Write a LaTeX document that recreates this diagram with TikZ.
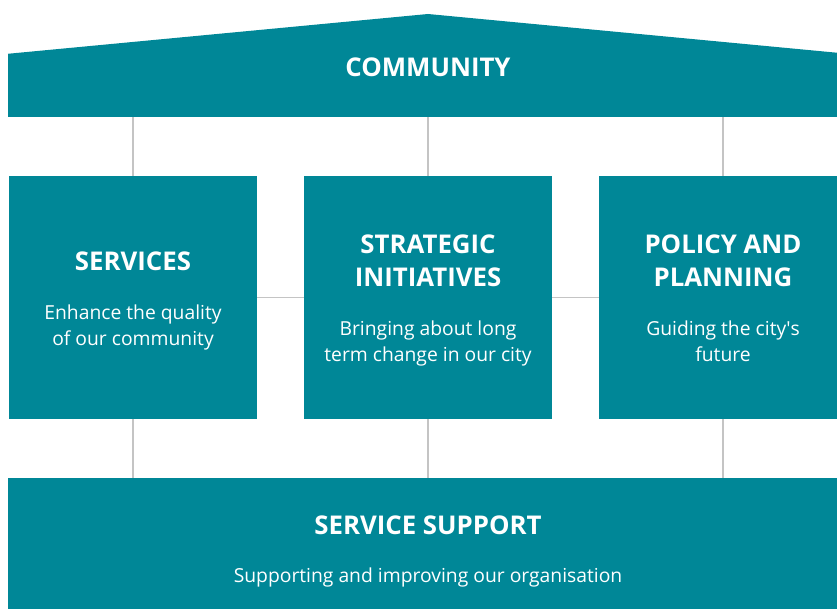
\documentclass[tikz,border=0pt]{standalone}
\usepackage{fontspec}
\setmainfont{Open Sans}
\newfontfamily\headfont{Open Sans}
\definecolor{cityteal}{HTML}{008797}
\definecolor{linkgrey}{HTML}{C4C4C4}
\tikzset{
  pillar/.style={fill=cityteal, minimum width=248pt, minimum height=243pt, inner sep=0pt},
  band/.style={fill=cityteal, minimum width=840pt, inner sep=0pt},
  link/.style={draw=linkgrey, line width=1.2pt},
  head/.style={text=white, anchor=north, inner sep=0pt, align=center, font=\headfont\bfseries\fontsize{25.8}{33}\selectfont},
  blurb/.style={text=white, anchor=north, inner sep=0pt, align=center, font=\fontsize{19.3}{26}\selectfont}
}
\begin{document}
\begin{tikzpicture}[x=1pt, y=-1pt]
\path[use as bounding box, clip] (0,0) rectangle (837,609);

% roof and base
\node[band, minimum height=63pt] (roof) at (428, 85.5) {};
\fill[cityteal] (roof.north west) -- (428,14) -- (roof.north east) -- cycle;
\node[band, minimum height=142pt] (base) at (428, 549) {};

% pillars
\node[pillar] (svc) at (133, 297.5) {};
\node[pillar] (strat) at (428, 297.5) {};
\node[pillar] (pol) at (723, 297.5) {};

\draw[link] (svc.north) -- (svc.north |- roof.south);
\draw[link] (strat.north) -- (strat.north |- roof.south);
\draw[link] (pol.north) -- (pol.north |- roof.south);
\draw[link] (svc.south) -- (svc.south |- base.north);
\draw[link] (strat.south) -- (strat.south |- base.north);
\draw[link] (pol.south) -- (pol.south |- base.north);
\draw[link] (svc.east) -- (strat.west);
\draw[link] (strat.east) -- (pol.west);

% texts
\node[head] (comm) at (428, 57.5) {COMMUNITY};
\node[head] (svcT) at (133, 252) {SERVICES};
\node[blurb] (svcB) at (133, 304.5) {Enhance the quality\\of our community};
\node[head] (stratT) at (428, 235) {STRATEGIC\\INITIATIVES};
\node[blurb] (stratB) at (428, 320.5) {Bringing about long\\term change in our city};
\node[head] (polT) at (723, 235) {POLICY AND\\PLANNING};
\node[blurb] (polB) at (723, 320.5) {Guiding the city\textquotesingle s\\future};
\node[head] (supT) at (428, 516) {SERVICE SUPPORT};
\node[blurb] (supB) at (428, 567.5) {Supporting and improving our organisation};
\end{tikzpicture}
\end{document}
